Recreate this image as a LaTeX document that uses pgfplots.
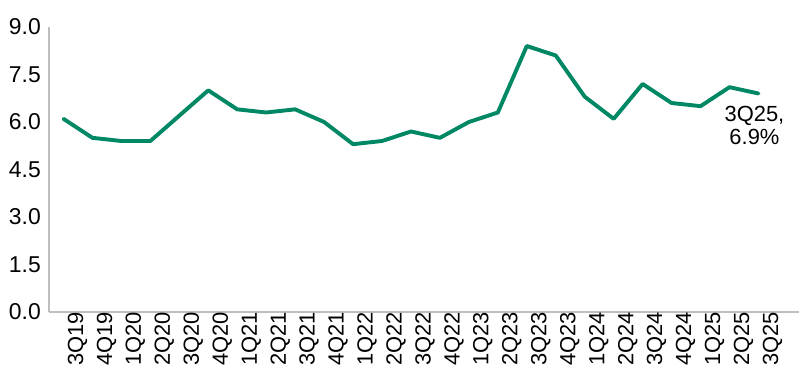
\documentclass[border=0pt]{standalone}
\usepackage{fontspec}
\setmainfont{Liberation Sans}
\usepackage{pgfplots}
\pgfplotsset{compat=1.18}
\definecolor{lineg}{RGB}{0,135,100}
\definecolor{axg}{RGB}{190,190,190}
\begin{document}
\begin{tikzpicture}
\useasboundingbox (-49bp,-71bp) rectangle (755bp,312bp);
\begin{axis}[
  at={(0,0)}, anchor=south west,
  scale only axis,
  width=750bp, height=285bp,
  xmin=-0.5, xmax=25.4,
  ymin=0, ymax=9,
  axis x line*=bottom,
  axis y line*=left,
  axis line style={axg, line width=1.2bp, -},
  major tick length=0pt,
  ytick={0,1.5,3,4.5,6,7.5,9},
  /pgf/number format/fixed,
  /pgf/number format/fixed zerofill,
  /pgf/number format/precision=1,
  /pgf/number format/assume math mode=true,
  xtick={0,...,24},
  xticklabels={3Q19,4Q19,1Q20,2Q20,3Q20,4Q20,1Q21,2Q21,3Q21,4Q21,1Q22,2Q22,3Q22,4Q22,1Q23,2Q23,3Q23,4Q23,1Q24,2Q24,3Q24,4Q24,1Q25,2Q25,3Q25},
  xticklabel style={rotate=90, anchor=east, font=\fontsize{22}{26}\selectfont, inner sep=0pt},
  yticklabel style={font=\fontsize{23}{26}\selectfont, inner sep=0pt},
  tick label style={text=black},
  xtick pos=bottom, ytick pos=left,
  x tick label style={yshift=-14bp},
  y tick label style={xshift=-8bp},
  clip=false,
]
\addplot[lineg, line width=3.9bp, line join=round, line cap=round] coordinates {
(0,6.1) (1,5.5) (2,5.4) (3,5.4) (4,6.2) (5,7.0) (6,6.4) (7,6.3) (8,6.4) (9,6.0)
(10,5.3) (11,5.4) (12,5.7) (13,5.5) (14,6.0) (15,6.3) (16,8.4) (17,8.1) (18,6.8) (19,6.1)
(20,7.2) (21,6.6) (22,6.5) (23,7.1) (24,6.9)
};
\node[anchor=north, align=center, font=\fontsize{22}{23.5}\selectfont, xshift=-4bp, yshift=-9bp] at (axis cs:24,6.9) {3Q25,\\6.9\%};
\end{axis}
\end{tikzpicture}
\end{document}
